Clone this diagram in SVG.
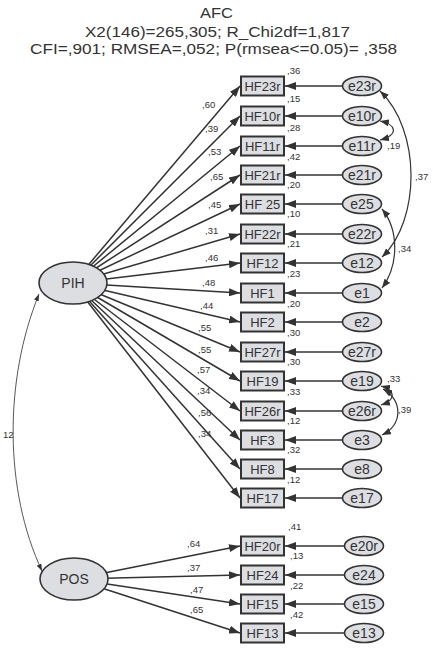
<svg xmlns="http://www.w3.org/2000/svg" width="433" height="650" viewBox="0 0 433 650">
<style>
text{font-family:"Liberation Sans",Arial,sans-serif;fill:#333}
.t{font-size:14px}
.b{font-size:13px;text-anchor:middle}
.e{font-size:14px;text-anchor:middle}
.l{font-size:9.5px}
.box{fill:#dcdee2;stroke:#333;stroke-width:2}
.ell{fill:#dcdee2;stroke:#333;stroke-width:1.6}
.p{stroke:#333;stroke-width:1.5;fill:none;marker-end:url(#ah)}
.c{stroke:#333;stroke-width:1.2;fill:none;marker-start:url(#ch);marker-end:url(#ch)}
.c2{stroke:#444;stroke-width:0.9;fill:none;marker-start:url(#sh);marker-end:url(#sh)}
</style>
<defs>
<marker id="ah" markerUnits="userSpaceOnUse" markerWidth="11" markerHeight="8" refX="11" refY="4" orient="auto"><path d="M0,0 L11,4 L0,8 z" fill="#333"/></marker>
<marker id="ch" markerUnits="userSpaceOnUse" markerWidth="9" markerHeight="7" refX="9" refY="3.5" orient="auto-start-reverse"><path d="M0,0 L9,3.5 L0,7 z" fill="#333"/></marker>
<marker id="sh" markerUnits="userSpaceOnUse" markerWidth="7" markerHeight="5" refX="7" refY="2.5" orient="auto-start-reverse"><path d="M0,0 L7,2.5 L0,5 z" fill="#333"/></marker>
</defs>
<g id="title">
<text class="t" x="200" y="18" textLength="33" lengthAdjust="spacingAndGlyphs">AFC</text>
<text class="t" x="85" y="37" textLength="265" lengthAdjust="spacingAndGlyphs">X2(146)=265,305; R_Chi2df=1,817</text>
<text class="t" x="30" y="54" textLength="367" lengthAdjust="spacingAndGlyphs">CFI=,901; RMSEA=,052; P(rmsea&lt;=0.05)= ,358</text>
</g>
<g id="connectors">
<path class="p" d="M73 283 L240 86"/>
<path class="p" d="M73 283 L240 116"/>
<path class="p" d="M73 283 L240 146"/>
<path class="p" d="M73 283 L240 175"/>
<path class="p" d="M73 283 L240 204"/>
<path class="p" d="M73 283 L240 234"/>
<path class="p" d="M73 283 L240 263"/>
<path class="p" d="M73 283 L240 293"/>
<path class="p" d="M73 283 L240 322"/>
<path class="p" d="M73 283 L240 352"/>
<path class="p" d="M73 283 L240 381"/>
<path class="p" d="M73 283 L240 411"/>
<path class="p" d="M73 283 L240 440"/>
<path class="p" d="M73 283 L240 469"/>
<path class="p" d="M73 283 L240 498"/>
<path class="p" d="M74 579 L240 546"/>
<path class="p" d="M74 579 L240 575"/>
<path class="p" d="M74 579 L240 604"/>
<path class="p" d="M74 579 L240 633"/>
<path class="p" d="M344 86 L285 86"/>
<path class="p" d="M344 116 L285 116"/>
<path class="p" d="M344 146 L285 146"/>
<path class="p" d="M344 175 L285 175"/>
<path class="p" d="M344 204 L285 204"/>
<path class="p" d="M344 234 L285 234"/>
<path class="p" d="M344 263 L285 263"/>
<path class="p" d="M344 293 L285 293"/>
<path class="p" d="M344 322 L285 322"/>
<path class="p" d="M344 352 L285 352"/>
<path class="p" d="M344 381 L285 381"/>
<path class="p" d="M344 411 L285 411"/>
<path class="p" d="M344 440 L285 440"/>
<path class="p" d="M344 469 L285 469"/>
<path class="p" d="M344 498 L285 498"/>
<path class="p" d="M345 546 L285 546"/>
<path class="p" d="M345 575 L285 575"/>
<path class="p" d="M345 604 L285 604"/>
<path class="p" d="M345 633 L285 633"/>
<path class="c2" d="M39 294 C 4 380, 4 490, 42 571"/>
<path class="c" d="M380 91 C 421 130, 421 220, 382 257"/>
<path class="c" d="M382 209 C 399 230, 399 265, 382 288"/>
<path class="c" d="M380 121 C 398 125, 398 135, 380 140"/>
<path class="c" d="M381 386 C 396 390, 396 400, 381 405"/>
<path class="c" d="M383 389 C 403 400, 403 425, 382 435"/>
</g>
<g id="labels">
<text class="l" x="3" y="438">12</text>
<text class="l" x="202" y="108">,60</text>
<text class="l" x="205" y="132">,39</text>
<text class="l" x="208" y="155">,53</text>
<text class="l" x="210" y="180">,65</text>
<text class="l" x="208" y="208">,45</text>
<text class="l" x="205" y="234">,31</text>
<text class="l" x="205" y="261">,46</text>
<text class="l" x="202" y="286">,48</text>
<text class="l" x="200" y="309">,44</text>
<text class="l" x="198" y="331">,55</text>
<text class="l" x="198" y="353">,55</text>
<text class="l" x="197" y="373">,57</text>
<text class="l" x="197" y="394">,34</text>
<text class="l" x="198" y="416">,56</text>
<text class="l" x="198" y="437">,34</text>
<text class="l" x="187" y="547">,64</text>
<text class="l" x="187" y="571">,37</text>
<text class="l" x="190" y="593">,47</text>
<text class="l" x="190" y="613">,65</text>
<text class="l" x="287" y="74">,36</text>
<text class="l" x="287" y="102">,15</text>
<text class="l" x="287" y="131">,28</text>
<text class="l" x="287" y="160">,42</text>
<text class="l" x="287" y="188">,20</text>
<text class="l" x="287" y="217">,10</text>
<text class="l" x="287" y="247">,21</text>
<text class="l" x="287" y="277">,23</text>
<text class="l" x="287" y="307">,20</text>
<text class="l" x="287" y="336">,30</text>
<text class="l" x="287" y="365">,30</text>
<text class="l" x="287" y="395">,33</text>
<text class="l" x="287" y="424">,12</text>
<text class="l" x="287" y="453">,32</text>
<text class="l" x="287" y="483">,12</text>
<text class="l" x="288" y="530">,41</text>
<text class="l" x="290" y="559">,13</text>
<text class="l" x="290" y="589">,22</text>
<text class="l" x="290" y="618">,42</text>
<text class="l" x="387" y="149">,19</text>
<text class="l" x="415" y="180">,37</text>
<text class="l" x="398" y="252">,34</text>
<text class="l" x="387" y="382">,33</text>
<text class="l" x="398" y="413">,39</text>
</g>
<g id="PIH"><ellipse class="ell" cx="73" cy="283" rx="34" ry="21"/><text class="e" x="73" y="288">PIH</text></g>
<g id="POS"><ellipse class="ell" cx="74" cy="579" rx="34" ry="21"/><text class="e" x="74" y="584">POS</text></g>
<g id="HF23r"><rect class="box" x="241" y="76.5" width="43" height="19"/><text class="b" x="262.5" y="91">HF23r</text></g>
<g id="HF10r"><rect class="box" x="241" y="106.5" width="43" height="19"/><text class="b" x="262.5" y="121">HF10r</text></g>
<g id="HF11r"><rect class="box" x="241" y="136.5" width="43" height="19"/><text class="b" x="262.5" y="151">HF11r</text></g>
<g id="HF21r"><rect class="box" x="241" y="165.5" width="43" height="19"/><text class="b" x="262.5" y="180">HF21r</text></g>
<g id="HF25"><rect class="box" x="241" y="194.5" width="43" height="19"/><text class="b" x="262.5" y="209">HF 25</text></g>
<g id="HF22r"><rect class="box" x="241" y="224.5" width="43" height="19"/><text class="b" x="262.5" y="239">HF22r</text></g>
<g id="HF12"><rect class="box" x="241" y="253.5" width="43" height="19"/><text class="b" x="262.5" y="268">HF12</text></g>
<g id="HF1"><rect class="box" x="241" y="283.5" width="43" height="19"/><text class="b" x="262.5" y="298">HF1</text></g>
<g id="HF2"><rect class="box" x="241" y="312.5" width="43" height="19"/><text class="b" x="262.5" y="327">HF2</text></g>
<g id="HF27r"><rect class="box" x="241" y="342.5" width="43" height="19"/><text class="b" x="262.5" y="357">HF27r</text></g>
<g id="HF19"><rect class="box" x="241" y="371.5" width="43" height="19"/><text class="b" x="262.5" y="386">HF19</text></g>
<g id="HF26r"><rect class="box" x="241" y="401.5" width="43" height="19"/><text class="b" x="262.5" y="416">HF26r</text></g>
<g id="HF3"><rect class="box" x="241" y="430.5" width="43" height="19"/><text class="b" x="262.5" y="445">HF3</text></g>
<g id="HF8"><rect class="box" x="241" y="459.5" width="43" height="19"/><text class="b" x="262.5" y="474">HF8</text></g>
<g id="HF17"><rect class="box" x="241" y="488.5" width="43" height="19"/><text class="b" x="262.5" y="503">HF17</text></g>
<g id="HF20r"><rect class="box" x="241" y="536.5" width="43" height="19"/><text class="b" x="262.5" y="551">HF20r</text></g>
<g id="HF24"><rect class="box" x="241" y="565.5" width="43" height="19"/><text class="b" x="262.5" y="580">HF24</text></g>
<g id="HF15"><rect class="box" x="241" y="594.5" width="43" height="19"/><text class="b" x="262.5" y="609">HF15</text></g>
<g id="HF13"><rect class="box" x="241" y="623.5" width="43" height="19"/><text class="b" x="262.5" y="638">HF13</text></g>
<g id="e23r"><ellipse class="ell" cx="362" cy="86" rx="19.5" ry="9.5"/><text class="e" x="362" y="91">e23r</text></g>
<g id="e10r"><ellipse class="ell" cx="362" cy="116" rx="19.5" ry="9.5"/><text class="e" x="362" y="121">e10r</text></g>
<g id="e11r"><ellipse class="ell" cx="362" cy="146" rx="19.5" ry="9.5"/><text class="e" x="362" y="151">e11r</text></g>
<g id="e21r"><ellipse class="ell" cx="362" cy="175" rx="19.5" ry="9.5"/><text class="e" x="362" y="180">e21r</text></g>
<g id="e25"><ellipse class="ell" cx="362" cy="204" rx="19.5" ry="9.5"/><text class="e" x="362" y="209">e25</text></g>
<g id="e22r"><ellipse class="ell" cx="362" cy="234" rx="19.5" ry="9.5"/><text class="e" x="362" y="239">e22r</text></g>
<g id="e12"><ellipse class="ell" cx="362" cy="263" rx="19.5" ry="9.5"/><text class="e" x="362" y="268">e12</text></g>
<g id="e1"><ellipse class="ell" cx="362" cy="293" rx="19.5" ry="9.5"/><text class="e" x="362" y="298">e1</text></g>
<g id="e2"><ellipse class="ell" cx="362" cy="322" rx="19.5" ry="9.5"/><text class="e" x="362" y="327">e2</text></g>
<g id="e27r"><ellipse class="ell" cx="362" cy="352" rx="19.5" ry="9.5"/><text class="e" x="362" y="357">e27r</text></g>
<g id="e19"><ellipse class="ell" cx="362" cy="381" rx="19.5" ry="9.5"/><text class="e" x="362" y="386">e19</text></g>
<g id="e26r"><ellipse class="ell" cx="362" cy="411" rx="19.5" ry="9.5"/><text class="e" x="362" y="416">e26r</text></g>
<g id="e3"><ellipse class="ell" cx="362" cy="440" rx="19.5" ry="9.5"/><text class="e" x="362" y="445">e3</text></g>
<g id="e8"><ellipse class="ell" cx="362" cy="469" rx="19.5" ry="9.5"/><text class="e" x="362" y="474">e8</text></g>
<g id="e17"><ellipse class="ell" cx="362" cy="498" rx="19.5" ry="9.5"/><text class="e" x="362" y="503">e17</text></g>
<g id="e20r"><ellipse class="ell" cx="364" cy="546" rx="19.5" ry="9.5"/><text class="e" x="364" y="551">e20r</text></g>
<g id="e24"><ellipse class="ell" cx="364" cy="575" rx="19.5" ry="9.5"/><text class="e" x="364" y="580">e24</text></g>
<g id="e15"><ellipse class="ell" cx="364" cy="604" rx="19.5" ry="9.5"/><text class="e" x="364" y="609">e15</text></g>
<g id="e13"><ellipse class="ell" cx="364" cy="633" rx="19.5" ry="9.5"/><text class="e" x="364" y="638">e13</text></g>
</svg>
